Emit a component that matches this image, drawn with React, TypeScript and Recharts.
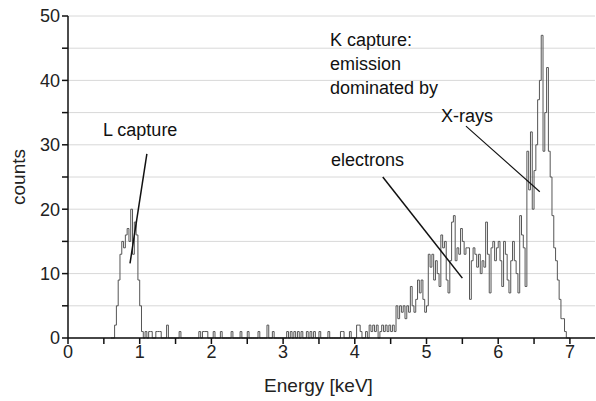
import { LineChart, Line, XAxis, YAxis, CartesianGrid, ReferenceLine } from 'recharts';

// histogram bins: left edge of first bin and bin width (keV)
const binStart = 0.6;
const binWidth = 0.025;

// counts per bin, 0.600 keV .. 7.000 keV (each row = 0.5 keV)
const counts = [
  0, 0, 2, 5, 9, 13, 15, 14, 16, 17, 15, 20, 13, 18, 16, 9, 5, 1, 0, 1,
  0, 1, 1, 0, 0, 1, 1, 1, 0, 0, 0, 2, 0, 0, 0, 0, 0, 0, 1, 0,
  0, 0, 0, 0, 0, 0, 0, 0, 0, 1, 0, 1, 1, 1, 0, 0, 0, 1, 0, 0,
  0, 1, 0, 0, 0, 0, 0, 1, 0, 0, 0, 0, 1, 0, 0, 0, 1, 0, 0, 0,
  0, 0, 1, 0, 0, 0, 0, 2, 0, 0, 1, 0, 0, 0, 0, 0, 0, 0, 1, 0,
  1, 0, 1, 0, 1, 0, 1, 0, 0, 1, 0, 1, 0, 1, 0, 0, 1, 0, 0, 0,
  0, 1, 0, 0, 0, 0, 0, 0, 1, 1, 0, 0, 0, 1, 0, 0, 0, 2, 2, 1,
  0, 0, 1, 0, 2, 1, 2, 1, 2, 0, 1, 2, 1, 2, 1, 2, 1, 2, 1, 5,
  3, 5, 4, 5, 3, 5, 4, 8, 5, 4, 6, 9, 7, 9, 6, 4, 5, 13, 11, 13,
  9, 12, 10, 8, 16, 14, 15, 9, 7, 12, 18, 19, 12, 14, 13, 17, 15, 13, 14, 14,
  6, 12, 14, 13, 11, 13, 10, 12, 11, 18, 13, 7, 14, 15, 12, 14, 15, 12, 8, 15,
  13, 9, 7, 12, 15, 12, 10, 7, 19, 16, 14, 8, 29, 23, 32, 20, 26, 30, 37, 40,
  47, 29, 35, 42, 29, 25, 19, 14, 12, 9, 6, 3, 3, 1, 0, 0, 0,
];

const xTicks = [0, 0.5, 1, 1.5, 2, 2.5, 3, 3.5, 4, 4.5, 5, 5.5, 6, 6.5, 7];
const yTicks = [0, 5, 10, 15, 20, 25, 30, 35, 40, 45, 50];

const spectrum = counts.map((c, i) => ({
  energy: +(binStart + i * binWidth).toFixed(3),
  counts: c,
}));

const font = '"Liberation Sans", Arial, sans-serif';

const note = (left: number, top: number): React.CSSProperties => ({
  position: 'absolute',
  left,
  top,
  fontFamily: font,
  fontSize: 18,
  lineHeight: '24px',
  color: '#111',
  whiteSpace: 'nowrap',
});

export default function App() {
  return (
    <div style={{ position: 'absolute', left: 0, top: 0, width: 596, height: 401, background: '#fff' }}>
      <LineChart
        width={596}
        height={401}
        data={spectrum}
        margin={{ top: 16, right: 1, bottom: 0, left: 0 }}
      >
        <CartesianGrid vertical={false} stroke="#d8d8d8" strokeWidth={1} />
        <XAxis
          type="number"
          dataKey="energy"
          domain={[0, 7.35]}
          ticks={xTicks}
          interval={0}
          allowDataOverflow
          height={63}
          tickSize={6}
          tickMargin={1}
          stroke="#111"
          strokeWidth={1.5}
          tick={{ fill: '#222', fontSize: 18, fontFamily: font }}
          tickFormatter={(v) => (Number.isInteger(v) ? String(v) : '')}
          label={{
            value: 'Energy [keV]',
            position: 'insideBottom',
            offset: 9,
            dx: -13,
            style: { fill: '#222', fontSize: 19, fontFamily: font },
          }}
        />
        <YAxis
          type="number"
          domain={[0, 50]}
          ticks={yTicks}
          interval={0}
          width={68}
          tickSize={6}
          tickMargin={2}
          stroke="#111"
          strokeWidth={1.5}
          tick={{ fill: '#222', fontSize: 18, fontFamily: font }}
          tickFormatter={(v) => (v % 10 === 0 ? String(v) : '')}
          label={{
            value: 'counts',
            angle: -90,
            position: 'insideLeft',
            dx: 13,
            style: { fill: '#222', fontSize: 19, fontFamily: font, textAnchor: 'middle' },
          }}
        />
        <Line
          type="stepAfter"
          dataKey="counts"
          stroke="#555"
          strokeWidth={1}
          dot={false}
          activeDot={false}
          isAnimationActive={false}
        />
        {/* pointer lines for the annotations */}
        <ReferenceLine segment={[{ x: 1.1, y: 28.6 }, { x: 0.865, y: 11.6 }]} stroke="#111" strokeWidth={1.5} ifOverflow="visible" />
        <ReferenceLine segment={[{ x: 4.39, y: 25 }, { x: 5.5, y: 9.3 }]} stroke="#111" strokeWidth={1.5} ifOverflow="visible" />
        <ReferenceLine segment={[{ x: 5.55, y: 32.9 }, { x: 6.58, y: 22.7 }]} stroke="#111" strokeWidth={1.2} ifOverflow="visible" />
      </LineChart>
      <div style={note(103, 118)}>L capture</div>
      <div style={note(330, 28)}>
        K capture:
        <br />
        emission
        <br />
        dominated by
      </div>
      <div style={note(441, 104)}>X-rays</div>
      <div style={note(331, 148)}>electrons</div>
    </div>
  );
}
